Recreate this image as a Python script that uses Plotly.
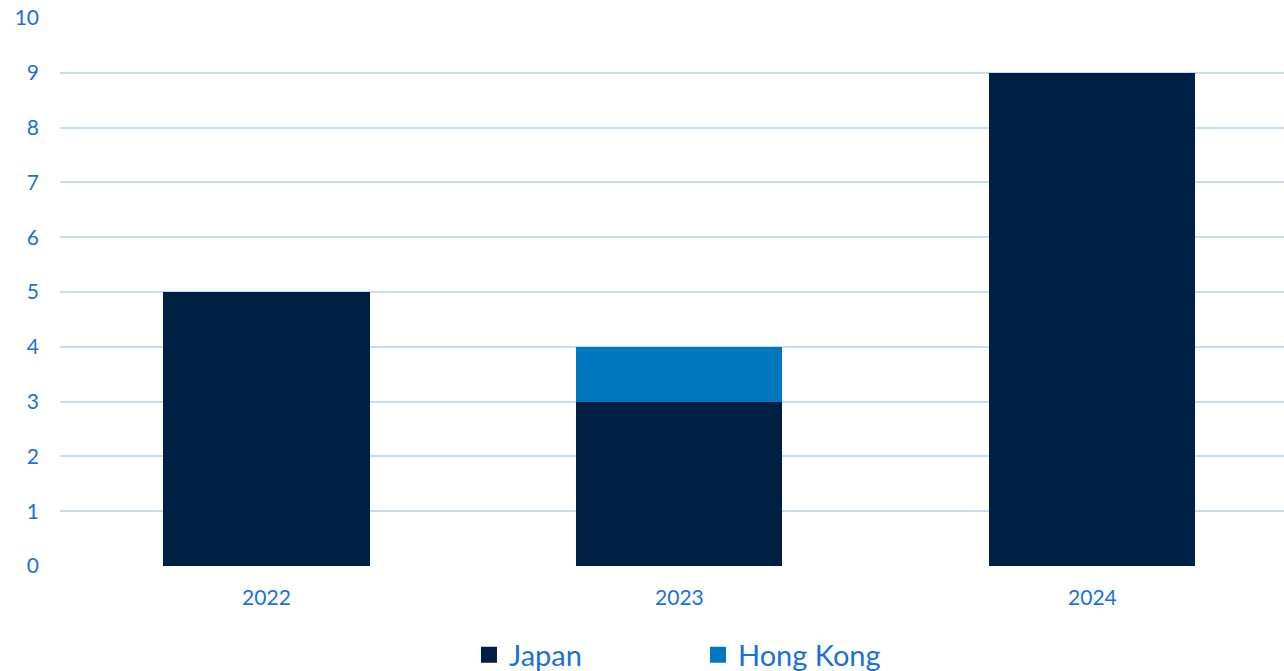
import plotly.graph_objects as go

years = ["2022", "2023", "2024"]
japan = [5, 3, 9]
hong_kong = [0, 1, 0]
y_ticks = list(range(0, 11))

c_japan = "#001f45"
c_hk = "#0078c0"
txt = "#1a6fdf"
grid = "#c3ddf7"
font = "Lato, 'Open Sans', sans-serif"

fig = go.Figure()
fig.add_trace(go.Bar(x=years, y=japan, name="Japan", marker=dict(color=c_japan, line=dict(width=0)), showlegend=False))
fig.add_trace(go.Bar(x=years, y=hong_kong, name="Hong Kong", marker=dict(color=c_hk, line=dict(width=0)), showlegend=False))
# legend proxies
fig.add_trace(go.Scatter(x=[None], y=[None], mode="markers", name="Japan",
                         marker=dict(symbol="square", size=16, color=c_japan)))
fig.add_trace(go.Scatter(x=[None], y=[None], mode="markers", name="Hong Kong",
                         marker=dict(symbol="square", size=16, color=c_hk)))

fig.update_layout(
    barmode="stack",
    bargap=0.501,
    width=1284, height=671,
    margin=dict(l=60, r=0, t=18, b=105, autoexpand=False),
    paper_bgcolor="white", plot_bgcolor="white",
    font=dict(family=font, color=txt, size=21),
    legend=dict(orientation="h", x=0.5436, xanchor="center", xref="container",
                y=0.024, yanchor="middle", yref="container", traceorder="normal",
                font=dict(size=29, color=txt), entrywidth=184, itemwidth=30),
    xaxis=dict(range=[-0.5, 2.464], showgrid=False, showline=False, zeroline=False, ticks="",
               ticklabelstandoff=17, tickfont=dict(size=21)),
    yaxis=dict(range=[0, 10], tickvals=y_ticks, showgrid=True, gridcolor=grid, gridwidth=2,
               zeroline=False, showline=False, ticks="", ticklabelstandoff=20,
               tickfont=dict(size=21)),
)
fig.write_html("out.html")
